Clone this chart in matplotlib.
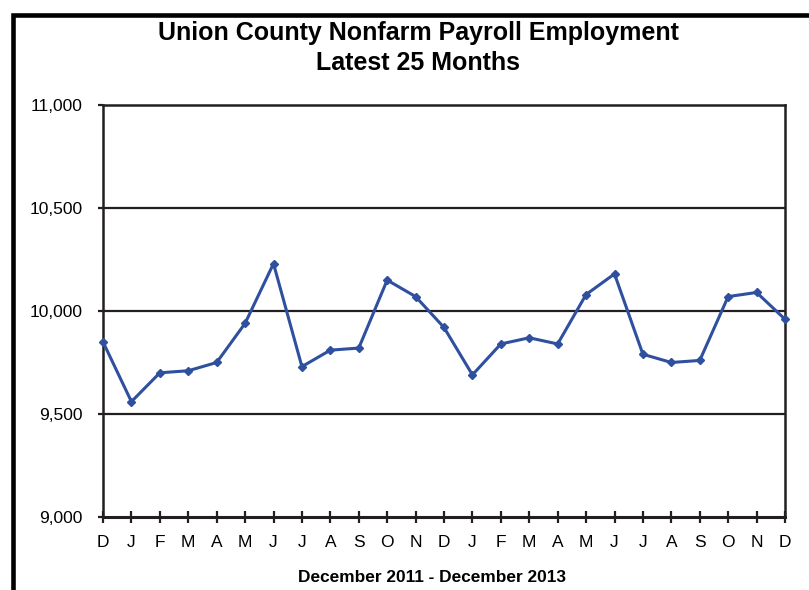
import matplotlib.pyplot as plt
from matplotlib.patches import Rectangle

plt.rcParams['font.family'] = ['Liberation Sans', 'DejaVu Sans']

# monthly nonfarm payroll, Dec 2011 .. Dec 2013
months = ["D", "J", "F", "M", "A", "M", "J", "J", "A", "S", "O", "N", "D",
          "J", "F", "M", "A", "M", "J", "J", "A", "S", "O", "N", "D"]
employment = [9850, 9560, 9700, 9710, 9750, 9940, 10230, 9730, 9810, 9820,
              10150, 10070, 9920, 9690, 9840, 9870, 9840, 10080, 10180,
              9790, 9750, 9760, 10070, 10090, 9960]
y_ticks = [9000, 9500, 10000, 10500, 11000]

ink = "#231f20"
blue = "#2f4f9f"
W, H = 809, 590

fig = plt.figure(figsize=(W / 100, H / 100), dpi=100)
ax = fig.add_axes([103 / W, 1 - 517 / H, 682 / W, 412 / H])

# outer chart border (only left and top edges fall inside the image)
fig.patches.append(Rectangle((12.5 / W, -0.1), 1.2, 1 - 14.5 / H + 0.1,
                             transform=fig.transFigure, fill=False,
                             edgecolor="black", linewidth=3.3, zorder=0))

x = list(range(len(months)))
ax.plot(x, employment, color=blue, linewidth=2.2, marker="D",
        markersize=3.8, markerfacecolor=blue, markeredgecolor=blue,
        zorder=3, clip_on=False)

ax.set_xlim(0, len(months) - 1)
ax.set_ylim(y_ticks[0], y_ticks[-1])
ax.set_xticks(x)
ax.set_xticklabels(months)
ax.set_yticks(y_ticks)
ax.set_yticklabels([f"{v:,}" for v in y_ticks])

for v in y_ticks[1:-1]:
    ax.axhline(v, color=ink, linewidth=1.6, zorder=1)

for s in ax.spines.values():
    s.set_color(ink)
    s.set_linewidth(1.8)
ax.spines["bottom"].set_linewidth(2.2)

ax.tick_params(axis="x", direction="inout", length=8, width=1.6,
               color=ink, labelsize=12.5, pad=9)
ax.tick_params(axis="y", direction="out", length=3.6, width=1.6,
               color=ink, labelsize=12.5, pad=11)

fig.text(418 / W, 1 - 40 / H, "Union County Nonfarm Payroll Employment",
         ha="center", va="baseline", fontsize=18, fontweight="bold")
fig.text(418 / W, 1 - 70 / H, "Latest 25 Months",
         ha="center", va="baseline", fontsize=18, fontweight="bold")
fig.text(432 / W, 1 - 582 / H, "December 2011 - December 2013",
         ha="center", va="baseline", fontsize=12.4, fontweight="bold")

fig.savefig("out.png", dpi=100)
